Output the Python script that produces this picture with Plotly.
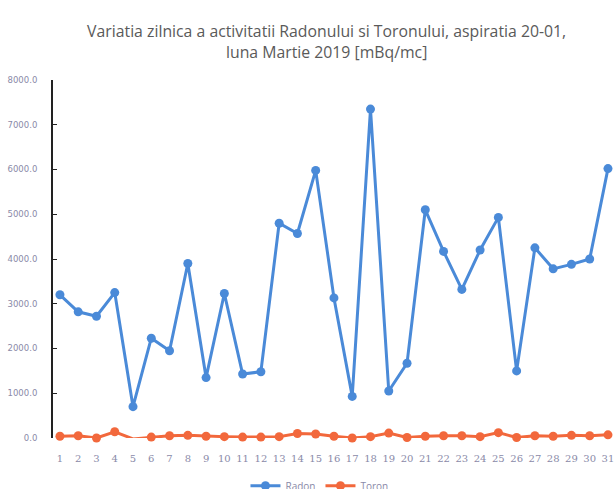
import plotly.graph_objects as go

days = [str(d) for d in range(1, 32)]
radon = [3200, 2820, 2720, 3250, 700, 2230, 1950, 3900, 1350, 3230,
         1430, 1480, 4800, 4570, 5980, 3130, 930, 7350, 1050, 1670,
         5100, 4170, 3320, 4200, 4930, 1500, 4250, 3780, 3880, 4000, 6020]
toron = [40, 50, 0, 140, -20, 20, 50, 60, 40, 30,
         20, 20, 30, 100, 90, 40, 0, 30, 110, 10,
         40, 50, 50, 30, 120, 10, 50, 40, 60, 50, 70]
y_ticks = [0, 1000, 2000, 3000, 4000, 5000, 6000, 7000, 8000]
y_labels = [f"{v:.1f}" for v in y_ticks]

fig = go.Figure()
fig.add_trace(go.Scatter(x=days, y=radon, name="Radon", mode="lines+markers",
                         line=dict(color="#4a8ad8", width=3),
                         marker=dict(size=9, color="#4a8ad8"), cliponaxis=False))
fig.add_trace(go.Scatter(x=days, y=toron, name="Toron", mode="lines+markers",
                         line=dict(color="#f2683c", width=3),
                         marker=dict(size=9, color="#f2683c"), cliponaxis=False))

fig.update_layout(
    width=614, height=489,
    margin=dict(l=53, r=0, t=80, b=51, autoexpand=False),
    paper_bgcolor="white", plot_bgcolor="white",
    title=dict(text="Variatia zilnica a activitatii Radonului si Toronului, aspiratia 20-01,<br>luna Martie 2019 [mBq/mc]",
               x=0.532, xanchor="center", y=0.924, yanchor="top",
               font=dict(family="Open Sans", size=15.8, color="#5a5a5a")),
    xaxis=dict(type="category", range=[-0.38, 30.33], showgrid=False, showline=False,
               zeroline=False, ticks="", automargin=False, ticklabelstandoff=13,
               tickfont=dict(family="DejaVu Serif", size=10, color="#8a8aa8")),
    yaxis=dict(range=[0, 8000], tickvals=y_ticks, ticktext=y_labels, showgrid=False,
               showline=True, linecolor="#222222", linewidth=2, zeroline=False,
               ticks="inside", ticklen=4, tickcolor="#222222", automargin=False,
               ticklabelstandoff=12,
               tickfont=dict(family="DejaVu Sans", size=8.5, color="#8a8aa8")),
    showlegend=True,
    legend=dict(orientation="h", x=0.475, xanchor="center", y=-0.093, yanchor="top",
                font=dict(family="Open Sans", size=10, color="#8a8aa8")),
)

fig.write_html("out.html", config={"displayModeBar": False},
               post_script="document.body.style.margin='0';")
